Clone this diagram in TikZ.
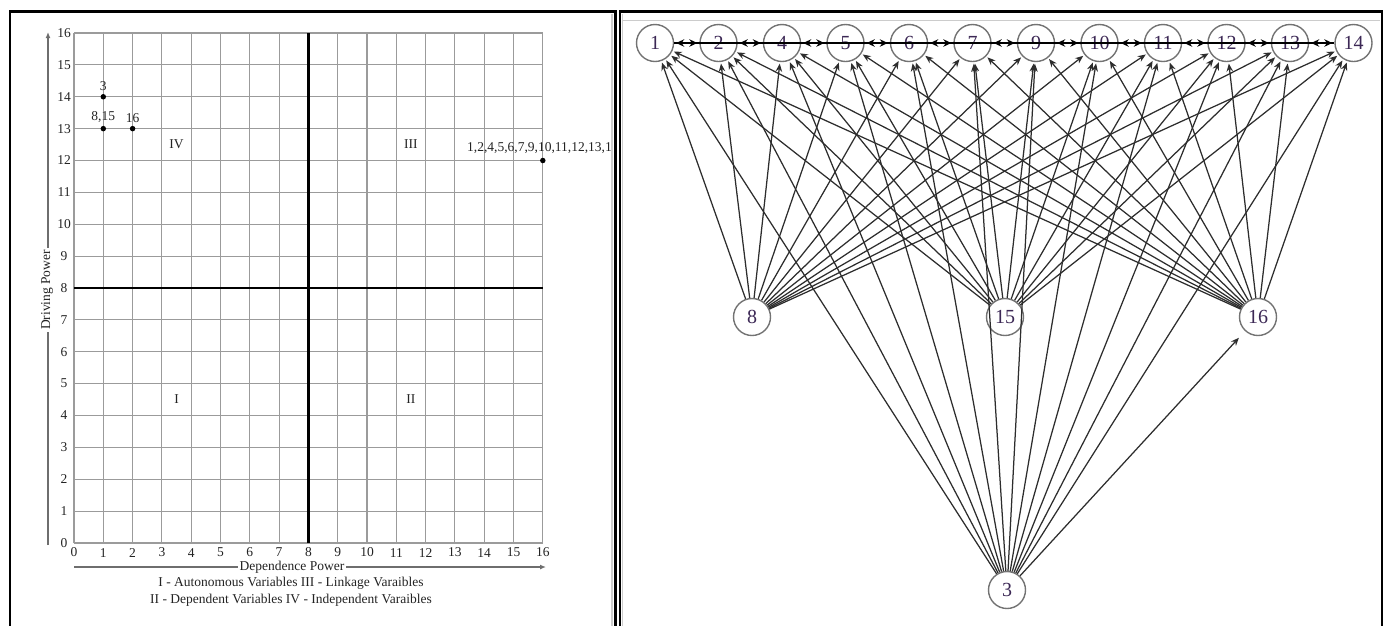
\documentclass[tikz,border=0pt]{standalone}
\usepackage{fontspec}
\setmainfont{Liberation Serif}
\usetikzlibrary{arrows.meta}
\definecolor{gridgray}{RGB}{155,155,155}
\definecolor{axisgray}{RGB}{110,110,110}
\definecolor{edgegray}{RGB}{45,45,45}
\definecolor{circgray}{RGB}{115,115,115}
\definecolor{labtxt}{RGB}{35,35,35}
\definecolor{nodetxt}{RGB}{60,40,85}
\tikzset{
  frameline/.style={line width=2.6pt,black},
  innerline/.style={line width=1.4pt,gray!40},
  gridline/.style={line width=1.1pt,gridgray},
  quadline/.style={line width=2.4pt,black},
  axisline/.style={line width=1.4pt,axisgray},
  ticklab/.style={font=\fontsize{13.5}{13.5}\selectfont,text=labtxt,inner sep=0pt},
  quadlab/.style={font=\fontsize{13.5}{13.5}\selectfont,text=labtxt,inner sep=0pt},
  ptdot/.style={circle,fill=black,inner sep=0pt,minimum size=5.5pt},
  vnode/.style={circle,draw=circgray,line width=1.4pt,minimum size=37pt,inner sep=0pt,
    font=\fontsize{20}{20}\selectfont,text=nodetxt},
  edge/.style={line width=1.25pt,edgegray,-{Stealth[length=8pt,width=6.5pt]},shorten >=1.5pt},
  rowedge/.style={line width=2pt,black,{Stealth[length=8pt,width=7.5pt]}-{Stealth[length=8pt,width=7.5pt]},shorten >=2pt,shorten <=2pt},
}
\begin{document}
\begin{tikzpicture}[x=1pt,y=-1pt]
\useasboundingbox (0,0) rectangle (1389,625);
% frames
\draw[innerline] (612,14) -- (612,630);
\draw[innerline] (622.5,14) -- (622.5,630);
\draw[innerline] (622,20.5) -- (1380,20.5);
\draw[frameline] (10,640) -- (10,11.5) -- (615.5,11.5) -- (615.5,640);
\draw[frameline] (620,640) -- (620,11.5) -- (1382,11.5) -- (1382,640);

% ---------- left chart ----------
\begin{scope}[shift={(74,543)},x=29.3pt,y=31.875pt]
  \foreach \i in {0,...,16} {
    \draw[gridline] (\i,0) -- (\i,16);
    \draw[gridline] (0,\i) -- (16,\i);
    \node[ticklab] (xt\i) at (\i,-0.3) {\i};
  }
  \draw[quadline] (8,0) -- (8,16);
  \draw[quadline] (0,8) -- (16,8);
  \node[quadlab] (qIV) at (3.5,12.5) {IV};
  \node[quadlab] (qIII) at (11.5,12.5) {III};
  \node[quadlab] (qI) at (3.5,4.5) {I};
  \node[quadlab] (qII) at (11.5,4.5) {II};
  \node[ptdot] (p3) at (1,14) {};
  \node[ptdot] (p815) at (1,13) {};
  \node[ptdot] (p16) at (2,13) {};
  \node[ptdot] (pall) at (16,12) {};
  \node[ticklab,above=6pt] (l3) at (p3) {3};
  \node[ticklab,above=6pt] (l815) at (p815) {8,15};
  \node[ticklab,above=6pt] (l16) at (p16) {16};
\end{scope}
\foreach \j in {0,...,16} {
  \node[ticklab] (yt\j) at (64,{543-31.875*\j}) {\j};
}
\begin{scope}
  \clip (20,100) rectangle (612,200);
  \node[ticklab,anchor=west] (lall) at (467,148) {1,2,4,5,6,7,9,10,11,12,13,1};
\end{scope}
% axes
\coordinate (ybot) at (48,545);
\coordinate (ytop) at (48,32);
\draw[axisline,-{Latex[length=6pt,width=5pt]}] (ybot) -- (ytop);
\node[ticklab,rotate=90,fill=white,inner xsep=2pt] (ylab) at (47,290) {Driving Power};
\coordinate (xleft) at (74,567);
\coordinate (xright) at (546,567);
\draw[axisline,-{Latex[length=6pt,width=5pt]}] (xleft) -- (xright);
\node[ticklab,fill=white,inner xsep=2pt] (xlab) at (292,567) {Dependence Power};
\node[ticklab] (leg1) at (291,583) {I - Autonomous Variables III - Linkage Varaibles};
\node[ticklab] (leg2) at (291,600) {II - Dependent Variables IV - Independent Varaibles};

% ---------- right digraph ----------
\foreach \n [count=\k from 0] in {1,2,4,5,6,7,9,10,11,12,13,14} {
  \node[vnode] (n\n) at ({655+63.5*\k},43) {\n};
}
\node[vnode] (n8) at (752,317) {8};
\node[vnode] (n15) at (1005,317) {15};
\node[vnode] (n16) at (1258,317) {16};
\node[vnode] (n3) at (1007,590) {3};

\draw[line width=2pt,black] (n1) -- (n14);
\foreach \a/\b in {1/2,2/4,4/5,5/6,6/7,7/9,9/10,10/11,11/12,12/13,13/14} {
  \draw[rowedge] (n\a) -- (n\b);
}
\foreach \s in {8,15,16,3} {
  \foreach \t in {1,2,4,5,6,7,9,10,11,12,13,14} {
    \draw[edge] (n\s) -- (n\t);
  }
}
\draw[edge,shorten >=9pt] (n3) -- (n16);
\end{tikzpicture}
\end{document}
